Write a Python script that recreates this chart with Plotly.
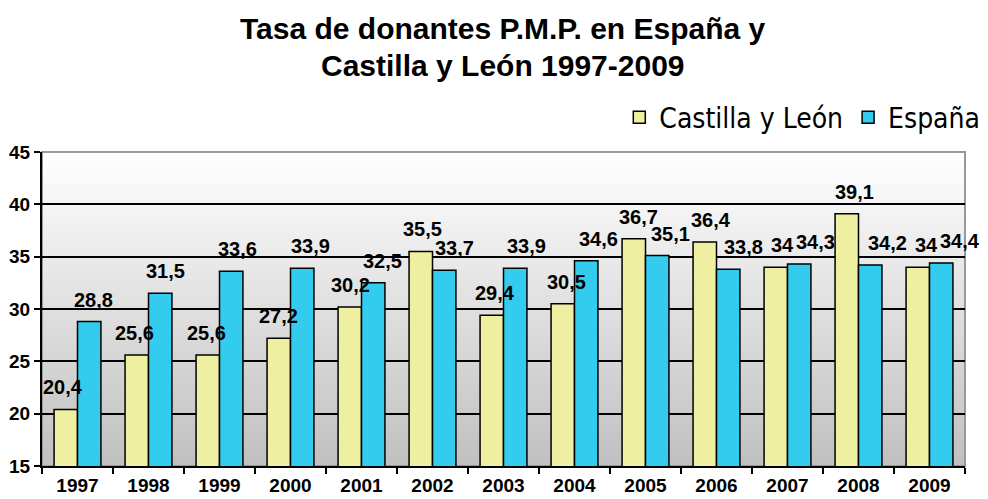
import base64, struct, zlib
import plotly.graph_objects as go

years = ["1997", "1998", "1999", "2000", "2001", "2002", "2003",
         "2004", "2005", "2006", "2007", "2008", "2009"]
castilla_leon = [20.4, 25.6, 25.6, 27.2, 30.2, 35.5, 29.4, 30.5, 36.7, 36.4, 34, 39.1, 34]
espana = [28.8, 31.5, 33.6, 33.9, 32.5, 33.7, 33.9, 34.6, 35.1, 33.8, 34.3, 34.2, 34.4]
y_ticks = [15, 20, 25, 30, 35, 40, 45]
title_lines = ["Tasa de donantes P.M.P. en España y", "Castilla y León 1997-2009"]


def fmt(v):
    return f"{v:g}".replace(".", ",")


def gradient_png(top=(255, 255, 255), bottom=(192, 192, 192), n=200):
    raw = b""
    for i in range(n):
        t = i / (n - 1)
        c = tuple(int(round(top[k] + (bottom[k] - top[k]) * t)) for k in range(3))
        raw += b"\x00" + bytes(c) * 2
    def chunk(tag, data):
        return struct.pack(">I", len(data)) + tag + data + struct.pack(">I", zlib.crc32(tag + data) & 0xffffffff)
    png = b"\x89PNG\r\n\x1a\n"
    png += chunk(b"IHDR", struct.pack(">IIBBBBB", 2, n, 8, 2, 0, 0, 0))
    png += chunk(b"IDAT", zlib.compress(raw))
    png += chunk(b"IEND", b"")
    return "data:image/png;base64," + base64.b64encode(png).decode()


bold_font = "Liberation Sans, Arial"
label_font = dict(family=bold_font, size=20, color="black", weight="bold")

fig = go.Figure()
fig.add_trace(go.Bar(
    name="Castilla y León", x=years, y=castilla_leon,
    marker=dict(color="#EFEFA2", line=dict(color="black", width=1.5)),
))
fig.add_trace(go.Bar(
    name="España", x=years, y=espana,
    marker=dict(color="#33CCEE", line=dict(color="black", width=1.5)),
))

# data labels (3D-perspective style: drift rightwards across the chart)
n = len(years)
annotations = []
for i, (a, b) in enumerate(zip(castilla_leon, espana)):
    drift = i / (n - 1)
    annotations.append(dict(x=i, y=a, xref="x", yref="y", text=fmt(a), showarrow=False,
                            xanchor="center", yanchor="bottom",
                            xshift=-15 + 12 * drift, yshift=9, font=label_font))
    annotations.append(dict(x=i, y=b, xref="x", yref="y", text=fmt(b), showarrow=False,
                            xanchor="center", yanchor="bottom",
                            xshift=16 + 14 * drift, yshift=9, font=label_font))

title_font = dict(family=bold_font, size=30, color="black", weight="bold")
annotations += [
    dict(text=title_lines[0], xref="paper", yref="paper", x=0.499, y=1.392,
         xanchor="center", yanchor="middle", showarrow=False, font=title_font),
    dict(text=title_lines[1], xref="paper", yref="paper", x=0.499, y=1.277,
         xanchor="center", yanchor="middle", showarrow=False, font=title_font),
]

fig.update_layout(
    width=988, height=499,
    margin=dict(l=42, r=23, t=152, b=33, autoexpand=False),
    paper_bgcolor="white",
    plot_bgcolor="rgba(0,0,0,0)",
    barmode="group", bargap=0.34, bargroupgap=0.0,
    annotations=annotations,
    legend=dict(
        orientation="h", x=1.022, xanchor="right", y=1.11, yanchor="middle",
        font=dict(family="DejaVu Sans Condensed, DejaVu Sans", size=28, color="black"),
        bgcolor="rgba(0,0,0,0)", traceorder="normal",
    ),
    images=[dict(
        source=gradient_png(), xref="paper", yref="paper",
        x=0, y=1, sizex=1, sizey=1, sizing="stretch",
        xanchor="left", yanchor="top", layer="below",
    )],
    xaxis=dict(
        type="category", categoryorder="array", categoryarray=years,
        range=[-0.5, n - 0.5],
        showline=True, linecolor="black", linewidth=2, automargin=False,
        ticks="outside", tickson="boundaries", ticklen=6, tickcolor="black", tickwidth=2,
        ticklabelstandoff=1,
        tickfont=dict(family=bold_font, size=19, color="black", weight="bold"),
        showgrid=False,
    ),
    yaxis=dict(
        range=[15, 45], tickvals=y_ticks, automargin=False,
        showline=True, linecolor="black", linewidth=2,
        ticks="outside", ticklen=6, tickcolor="black", tickwidth=2,
        tickfont=dict(family=bold_font, size=19, color="black", weight="bold"),
        showgrid=True, gridcolor="black", gridwidth=2,
        zeroline=False,
    ),
)
fig.add_shape(type="rect", xref="paper", yref="paper", x0=0, y0=0, x1=1, y1=1,
              line=dict(color="#999999", width=2), layer="below")

fig.write_html("out.html", config={"displayModeBar": False},
               post_script="document.body.style.margin='0';")
